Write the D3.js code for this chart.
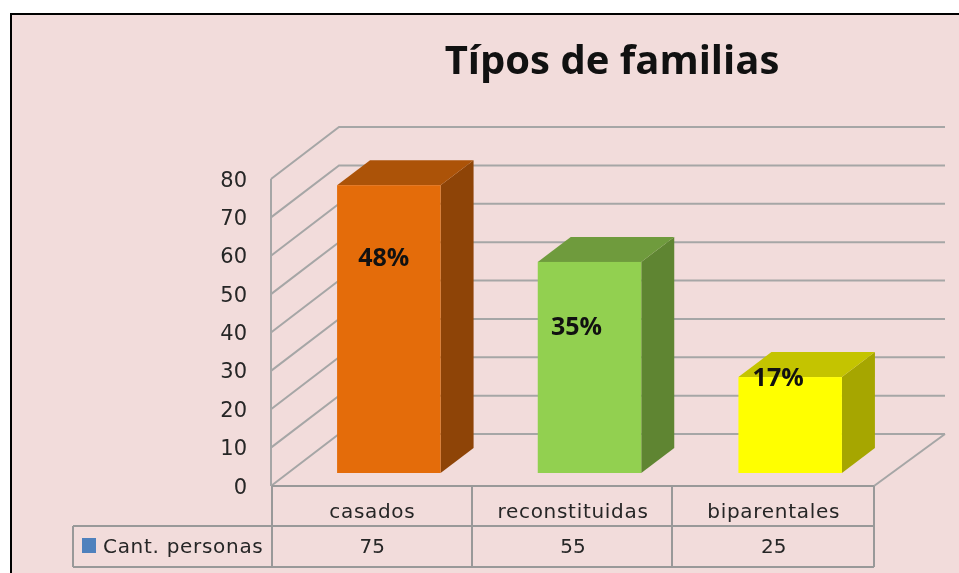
<!DOCTYPE html>
<html><head><meta charset="utf-8">
<script src="https://cdn.jsdelivr.net/npm/d3@7"></script>
<style>html,body{margin:0;padding:0;background:#fff;overflow:hidden}svg{display:block;filter:blur(0.45px)}text{font-family:"DejaVu Sans",sans-serif}</style>
</head><body><svg id="c" width="959" height="573"></svg>
<script>
const title = "Típos de familias";
const categories = ["casados","reconstituidas","biparentales"];
const values = [75,55,25];
const percents = ["48%","35%","17%"];
const yTicks = [0,10,20,30,40,50,60,70,80];
const seriesName = "Cant. personas";
const faceColors = ["#e46c0a","#92d050","#ffff00"];
const topColors = ["#ac5308","#6f9b3d","#c4c400"];
const sideColors = ["#8e4407","#5f8532","#a6a600"];
const labelOffsets = [[-5,72],[-13,64],[-12,0]];

const svg = d3.select("#c");
const grid = "#a6a6a6", tableLine = "#999999", txt = "#262626";

const x = d3.scaleBand().domain(categories).range([272,874]).paddingInner(0).paddingOuter(0);
const y = d3.scaleLinear().domain([0,80]).range([486,179]);
const depth = {dx:68, dy:-52};
const barOff = {dx:16.5, dy:-13};
const barDepth = {dx:33, dy:-25};
const barW = 103.5;

svg.append("rect").attr("x",10).attr("y",13).attr("width",949).attr("height",560).attr("fill","#f2dcdb");
svg.append("path").attr("d","M11,573V14H959").attr("fill","none").attr("stroke","#000").attr("stroke-width",2);

svg.append("text").attr("x",612).attr("y",74).attr("text-anchor","middle")
  .style("font-family","'Open Sans',sans-serif").attr("font-weight",700).attr("font-size",40).attr("fill","#111").text(title);

// walls
const line = (pts)=>d3.line()(pts);
const g = svg.append("g").attr("fill","none").attr("stroke",grid).attr("stroke-width",2);
yTicks.forEach(t=>{
  const py=y(t);
  g.append("path").attr("d",line([[271,py],[271+depth.dx,py+depth.dy],[945,py+depth.dy]]));
});
g.append("path").attr("d",line([[271,y(80)],[271,y(0)]]));
g.append("path").attr("d",line([[874,y(0)],[945,y(0)+depth.dy]]));

// y labels
svg.append("g").selectAll("text").data(yTicks).join("text")
  .attr("x",247).attr("y",d=>y(d)+7.5).attr("text-anchor","end").attr("font-size",21).attr("fill",txt).text(d=>d);

// bars
categories.forEach((c,i)=>{
  const x0=x(c)+ (x.bandwidth()-barW)/2 + barOff.dx;
  const x1=x0+barW, yb=y(0)+barOff.dy, yt=y(values[i])+barOff.dy;
  const G=svg.append("g");
  G.append("path").attr("fill",sideColors[i]).attr("d",line([[x1,yb],[x1+barDepth.dx,yb+barDepth.dy],[x1+barDepth.dx,yt+barDepth.dy],[x1,yt]])+"Z");
  G.append("path").attr("fill",topColors[i]).attr("d",line([[x0,yt],[x0+barDepth.dx,yt+barDepth.dy],[x1+barDepth.dx,yt+barDepth.dy],[x1,yt]])+"Z");
  G.append("rect").attr("x",x0).attr("y",yt).attr("width",barW).attr("height",yb-yt).attr("fill",faceColors[i]);
  G.append("text").attr("x",(x0+x1)/2+labelOffsets[i][0]).attr("y",yt+labelOffsets[i][1]+9)
    .attr("text-anchor","middle").style("font-family","'Open Sans',sans-serif").attr("font-weight",700).attr("font-size",25).attr("fill","#111").text(percents[i]);
});

// data table
const rows=[486,526,567], xs=[73,272,472,672,874];
const t=svg.append("g").attr("fill","none").attr("stroke",tableLine).attr("stroke-width",2);
t.append("path").attr("d",`M272,${rows[0]}H874`);
t.append("path").attr("d",`M73,${rows[1]}H874`);
t.append("path").attr("d",`M73,${rows[2]}H874`);
t.append("path").attr("d",`M73,${rows[1]}V${rows[2]}`);
xs.slice(1).forEach(v=>t.append("path").attr("d",`M${v},${rows[0]}V${rows[2]}`));

categories.forEach((c,i)=>{
  const cx=x(c)+x.bandwidth()/2;
  svg.append("text").attr("x",cx).attr("y",518).attr("text-anchor","middle").attr("font-size",20).attr("letter-spacing",0.7).attr("fill",txt).text(c);
  svg.append("text").attr("x",cx).attr("y",553).attr("text-anchor","middle").attr("font-size",20).attr("fill",txt).text(values[i]);
});
svg.append("rect").attr("x",82).attr("y",538).attr("width",14).attr("height",15).attr("fill","#4f81bd");
svg.append("text").attr("x",103).attr("y",553).attr("font-size",20).attr("letter-spacing",0.7).attr("fill",txt).text(seriesName);
</script></body></html>
